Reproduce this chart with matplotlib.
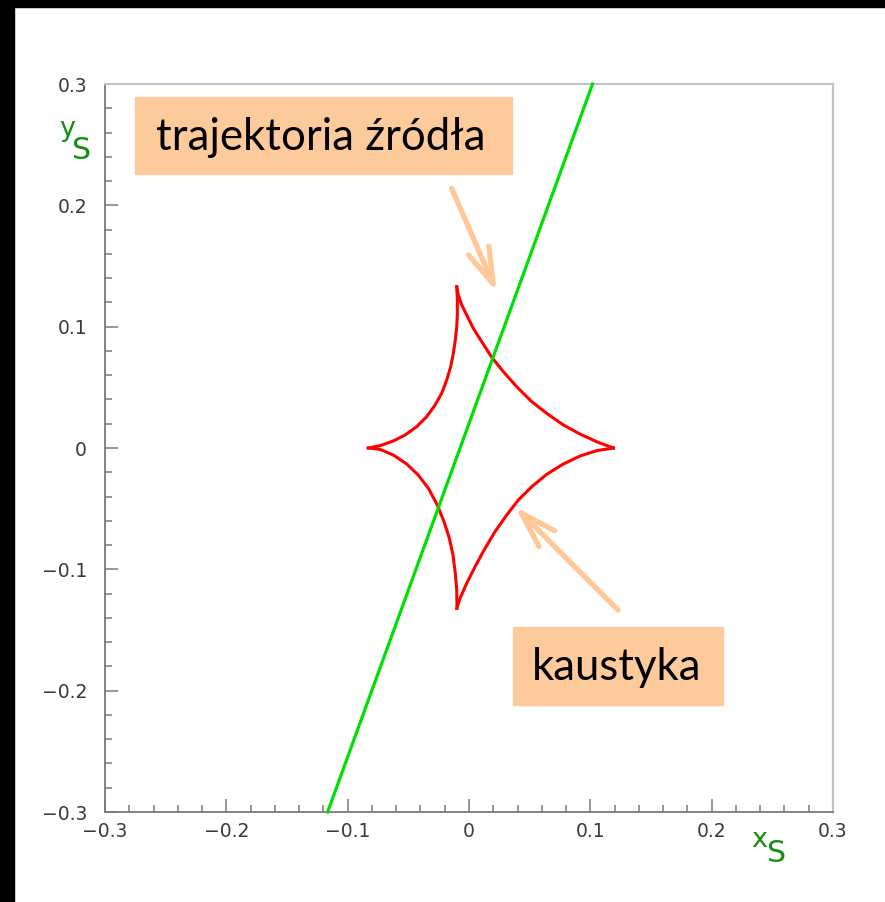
import matplotlib.pyplot as plt
from matplotlib.patches import Rectangle
from matplotlib.ticker import MultipleLocator, FuncFormatter

# Source trajectory (straight line across the source plane)
traj_x = [-0.1165, 0.1018]
traj_y = [-0.300, 0.300]

# Caustic, traced arc by arc (cusp to cusp)
arc_tl_x = [-0.0101, -0.0096, -0.0096, -0.0101, -0.0113, -0.0129, -0.0151, -0.0184,
            -0.0225, -0.0280, -0.0349, -0.0431, -0.0527, -0.0624, -0.0734, -0.0830]
arc_tl_y = [0.1329, 0.1220, 0.1110, 0.1000, 0.0890, 0.0780, 0.0670, 0.0560,
            0.0451, 0.0354, 0.0258, 0.0176, 0.0107, 0.0058, 0.0019, 0.0000]

arc_tr_x = [-0.0101, -0.0088, -0.0060, -0.0019, 0.0035, 0.0105, 0.0187, 0.0283,
            0.0393, 0.0517, 0.0640, 0.0777, 0.0915, 0.1052, 0.1190]
arc_tr_y = [0.1329, 0.1261, 0.1179, 0.1096, 0.0987, 0.0876, 0.0748, 0.0629,
            0.0505, 0.0382, 0.0286, 0.0190, 0.0115, 0.0052, 0.0000]

arc_bl_x = [-0.0830, -0.0734, -0.0624, -0.0513, -0.0418, -0.0335, -0.0261, -0.0206,
            -0.0162, -0.0132, -0.0113, -0.0101, -0.0099]
arc_bl_y = [0.0000, -0.0011, -0.0058, -0.0132, -0.0223, -0.0332, -0.0470, -0.0607,
            -0.0744, -0.0882, -0.1033, -0.1170, -0.1321]

arc_br_x = [0.1190, 0.1052, 0.0915, 0.0777, 0.0640, 0.0517, 0.0406, 0.0311,
            0.0214, 0.0132, 0.0050, -0.0019, -0.0074, -0.0101]
arc_br_y = [0.0000, -0.0022, -0.0066, -0.0132, -0.0217, -0.0319, -0.0429, -0.0552,
            -0.0690, -0.0827, -0.0978, -0.1115, -0.1239, -0.1321]

axis_lim = (-0.3, 0.3)
major_step = 0.1
minor_step = 0.02

label_traj = "trajektoria źródła"
label_caustic = "kaustyka"

W, H = 885, 902
fig = plt.figure(figsize=(W / 100, H / 100), dpi=100)
fig.patch.set_facecolor("white")


def fx(px):
    return px / W


def fy(py):
    return 1 - py / H


# dark frame strips along the top and left edges
fig.add_artist(Rectangle((0, fy(7)), 1, 7 / H, transform=fig.transFigure,
                         color="black", zorder=0))
fig.add_artist(Rectangle((0, 0), 14 / W, 1, transform=fig.transFigure,
                         color="black", zorder=0))

ax = fig.add_axes([fx(105), fy(812), (833 - 105) / W, (812 - 84) / H])
ax.set_xlim(*axis_lim)
ax.set_ylim(*axis_lim)

ax.plot(traj_x, traj_y, color="#00e000", lw=2.3, clip_on=False, zorder=3)
for xs, ys in [(arc_tl_x, arc_tl_y), (arc_tr_x, arc_tr_y),
               (arc_bl_x, arc_bl_y), (arc_br_x, arc_br_y)]:
    ax.plot(xs, ys, color="#ff0000", lw=2.2, zorder=2)

# frame styling
for side in ["left", "bottom"]:
    ax.spines[side].set_color("#7a7a7a")
    ax.spines[side].set_linewidth(1.3)
for side in ["top", "right"]:
    ax.spines[side].set_color("#c4c4c4")
    ax.spines[side].set_linewidth(1.6)

ax.xaxis.set_major_locator(MultipleLocator(major_step))
ax.yaxis.set_major_locator(MultipleLocator(major_step))
ax.xaxis.set_minor_locator(MultipleLocator(minor_step))
ax.yaxis.set_minor_locator(MultipleLocator(minor_step))


def fmt(v, pos):
    if abs(v) < 1e-9:
        return "0"
    return f"{v:.1f}".replace("-", "\u2212")


ax.xaxis.set_major_formatter(FuncFormatter(fmt))
ax.yaxis.set_major_formatter(FuncFormatter(fmt))
ax.tick_params(which="both", direction="in", color="#7a7a7a", width=1.1,
               top=False, right=False, labelcolor="#3a3a3a", labelsize=13.5)
ax.tick_params(which="major", length=9.5)
ax.tick_params(which="minor", length=5.2)
ax.tick_params(axis="y", which="major", pad=13)
ax.tick_params(axis="x", which="major", pad=7)

# axis titles
green = "#118f11"
fig.text(fx(59), fy(136), "y", color=green, fontsize=19.5, ha="left", va="baseline")
fig.text(fx(72), fy(159), "S", color=green, fontsize=21.5, ha="left", va="baseline")
fig.text(fx(751), fy(847), "x", color=green, fontsize=19.5, ha="left", va="baseline")
fig.text(fx(767), fy(862), "S", color=green, fontsize=21.5, ha="left", va="baseline")

# label boxes
box_color = "#fdcb9b"
fig.add_artist(Rectangle((fx(135), fy(174)), (512 - 135) / W, (174 - 97) / H,
                         transform=fig.transFigure, color=box_color, zorder=4))
fig.text(fx(321), fy(138), label_traj, fontsize=31.5, family="Lato",
         ha="center", va="center", color="black", zorder=5)
fig.add_artist(Rectangle((fx(513), fy(705)), (723 - 513) / W, (705 - 627) / H,
                         transform=fig.transFigure, color=box_color, zorder=4))
fig.text(fx(617), fy(668), label_caustic, fontsize=31.5, family="Lato",
         ha="center", va="center", color="black", zorder=5)

# arrows pointing at the trajectory and the caustic
arrow_color = "#ffc896"
arrowprops = dict(arrowstyle="->,head_length=1.3,head_width=0.4",
                  color=arrow_color, lw=3.8, mutation_scale=20,
                  shrinkA=0, shrinkB=0, capstyle="round")
ax.annotate("", xy=(0.0228, 0.1286), xytext=(-0.0143, 0.2140),
            xycoords="data", textcoords="data", arrowprops=arrowprops,
            annotation_clip=False, zorder=6)
ax.annotate("", xy=(0.0379, -0.0484), xytext=(0.1228, -0.1335),
            xycoords="data", textcoords="data", arrowprops=arrowprops,
            annotation_clip=False, zorder=6)

fig.savefig("out.png", dpi=100)
